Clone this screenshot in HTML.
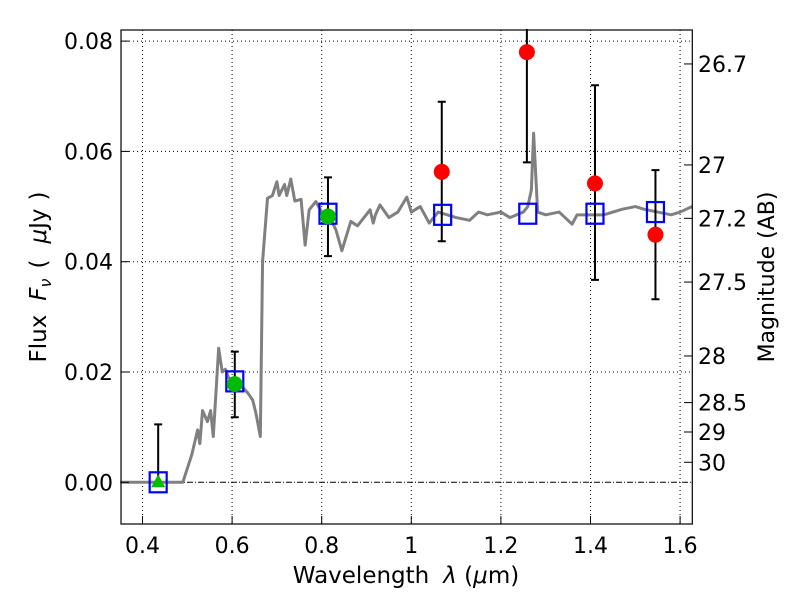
<!DOCTYPE html>
<html><head><meta charset="utf-8"><style>
body{margin:0;background:#fff;}
svg text{font-family:"DejaVu Sans","Liberation Sans",sans-serif;}
</style></head><body>
<svg id="chart" width="800" height="600" xmlns="http://www.w3.org/2000/svg">
<rect width="800" height="600" fill="#fff"/>
<g id="grid"></g>
<g id="marks"></g>
<rect x="121" y="30" width="571.3" height="494" fill="none" stroke="#000" stroke-width="1.2"/>
<g id="axes"></g>
<text x="406" y="583" font-size="23" text-anchor="middle">Wavelength<tspan dx="14" font-style="italic">λ</tspan> (<tspan font-style="italic">μ</tspan>m)</text>
<text transform="translate(46,277) rotate(-90)" font-size="23" text-anchor="middle">Flux<tspan dx="14" font-style="italic">F<tspan font-size="16" dy="5">ν</tspan></tspan><tspan dy="-5" dx="10">(</tspan><tspan dx="16" font-style="italic">μ</tspan>Jy<tspan dx="8">)</tspan></text>
<text transform="translate(774,277) rotate(-90)" font-size="22" text-anchor="middle">Magnitude (AB)</text>
</svg>
<script>
const xTicks=[0.4,0.6,0.8,1.0,1.2,1.4,1.6];
const xTickLabels=["0.4","0.6","0.8","1","1.2","1.4","1.6"];
const yTicks=[0,0.02,0.04,0.06,0.08];
const yTickLabels=["0.00","0.02","0.04","0.06","0.08"];
const magTicks=[26.7,27,27.2,27.5,28,28.5,29,30];
const magTickLabels=["26.7","27","27.2","27.5","28","28.5","29","30"];
const specWave=[0.35,0.49,0.51,0.523,0.528,0.534,0.545,0.552,0.558,0.570,0.578,0.585,0.592,0.60,0.61,0.62,0.635,0.646,0.653,0.663,0.668,0.679,0.69,0.70,0.705,0.717,0.722,0.731,0.74,0.754,0.763,0.772,0.787,0.80,0.815,0.832,0.845,0.865,0.88,0.908,0.915,0.92,0.93,0.95,0.97,0.99,1.0,1.02,1.04,1.06,1.1,1.13,1.15,1.17,1.2,1.22,1.25,1.26,1.268,1.273,1.282,1.3,1.33,1.359,1.37,1.4,1.43,1.47,1.5,1.52,1.55,1.58,1.6,1.627];
const specFlux=[0,0,0.005,0.0095,0.007,0.013,0.011,0.013,0.0083,0.0243,0.020,0.0205,0.019,0.0185,0.018,0.0175,0.0162,0.0149,0.0126,0.0083,0.040,0.0515,0.052,0.0545,0.052,0.054,0.052,0.055,0.051,0.0513,0.043,0.0494,0.0509,0.049,0.0487,0.0457,0.042,0.0473,0.0465,0.0494,0.047,0.0485,0.0503,0.048,0.049,0.0517,0.049,0.050,0.047,0.049,0.048,0.0475,0.049,0.0485,0.049,0.048,0.049,0.050,0.053,0.0633,0.049,0.0485,0.049,0.0468,0.0485,0.0485,0.0485,0.0495,0.050,0.0495,0.049,0.0485,0.049,0.050];
const modelWave=[0.435,0.606,0.814,1.07,1.26,1.41,1.545];
const modelFlux=[0,0.0183,0.0487,0.0485,0.0487,0.0487,0.049];
const obsWave=[0.435,0.606,0.814,1.068,1.258,1.41,1.545];
const obsFlux=[0,0.0178,0.0482,0.0563,0.078,0.0542,0.0449];
const obsLo=[0,0.0118,0.041,0.0437,0.058,0.0367,0.0332];
const obsHi=[0.0105,0.0237,0.0553,0.069,0.0822,0.072,0.0566];
const obsKind=["tri","green","green","red","red","red","red"];

const NS="http://www.w3.org/2000/svg";
const X=v=>411.3+(v-1)*448;
const Y=f=>482.3-f*5515;
function el(tag,attrs,parent){const e=document.createElementNS(NS,tag);for(const k in attrs)e.setAttribute(k,attrs[k]);parent.appendChild(e);return e;}
const grid=document.getElementById('grid'),marks=document.getElementById('marks'),axes=document.getElementById('axes');
xTicks.forEach((t,i)=>{
  const g=el('line',{x1:X(t),x2:X(t),y1:30,y2:524,stroke:'#000','stroke-width':1,'stroke-dasharray':'1,3'},grid);
  
  
  const tk=el('line',{x1:X(t),x2:X(t),y1:524,y2:516,stroke:'#000','stroke-width':1},axes);
  
  
  const tx=el('text',{x:X(t),y:553,'font-size':22,'text-anchor':'middle'},axes);tx.textContent=xTickLabels[i];
  
  
});
yTicks.forEach((t,i)=>{
  if(t!==0){const g=el('line',{x1:121,x2:692,y1:Y(t),y2:Y(t),stroke:'#000','stroke-width':1,'stroke-dasharray':'1,3'},grid);
  
  }
  const tk=el('line',{x1:121,x2:129,y1:Y(t),y2:Y(t),stroke:'#000','stroke-width':1},axes);
  
  
  const tx=el('text',{x:113,y:Y(t)+8,'font-size':22,'text-anchor':'end'},axes);tx.textContent=yTickLabels[i];
  
  
});
const zl=el('line',{x1:121,x2:692,y1:Y(0),y2:Y(0),stroke:'#000','stroke-width':1,'stroke-dasharray':'6,2,1,2'},grid);


magTicks.forEach((m,i)=>{
  const f=Math.pow(10,(23.9-m)/2.5);
  const tk=el('line',{x1:692,x2:684,y1:Y(f),y2:Y(f),stroke:'#000','stroke-width':1},axes);
  
  
  const tx=el('text',{x:698,y:Y(f)+8,'font-size':22},axes);tx.textContent=magTickLabels[i];
  
  
});
const sp=el('polyline',{points:specWave.map((w,i)=>X(w)+','+Y(specFlux[i])).join(' '),fill:'none',stroke:'#808080','stroke-width':3,'stroke-linejoin':'round'},marks);


obsWave.forEach((w,i)=>{
  const x=X(w),lo=Y(obsLo[i]),hi=Y(Math.min(obsHi[i],0.0822));
  const eb=el('path',{d:`M${x},${lo}V${hi}M${x-4},${lo}H${x+4}`+(obsHi[i]<0.082?`M${x-4},${hi}H${x+4}`:''),stroke:'#000','stroke-width':2,fill:'none'},marks);
  
  
});
modelWave.forEach((w,i)=>{
  const r=el('rect',{x:X(w)-8.5,y:Y(modelFlux[i])-10,width:17,height:20,fill:'none',stroke:'#0000ff','stroke-width':2.2},marks);
  
  
});
obsWave.forEach((w,i)=>{
  const x=X(w),y=Y(obsFlux[i]);let m;
  if(obsKind[i]==='tri'){m=el('polygon',{points:`${x},${y-8} ${x-7},${y+5} ${x+7},${y+5}`,fill:'#00bb00'},marks);}
  else{m=el('circle',{cx:x,cy:y,r:8,fill:obsKind[i]==='red'?'#ff0000':'#00bb00'},marks);}
  
  
});
</script>
</body></html>
